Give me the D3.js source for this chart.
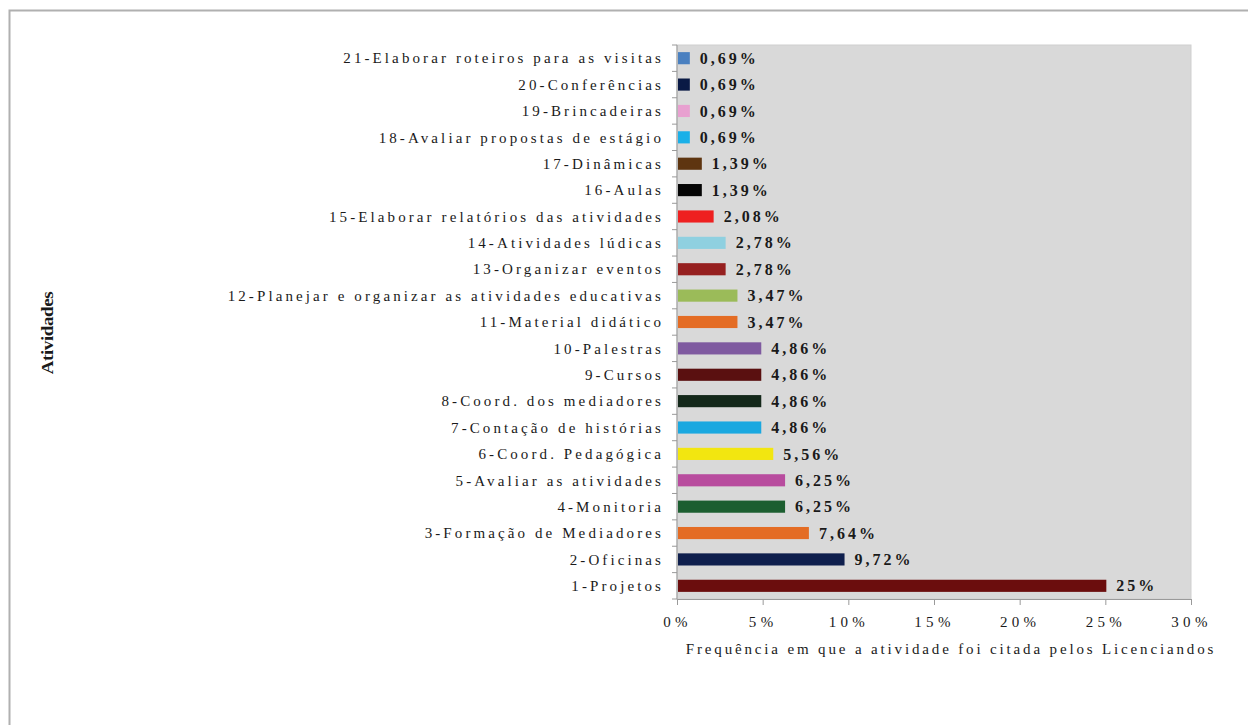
<!DOCTYPE html>
<html><head><meta charset="utf-8">
<script src="https://cdn.jsdelivr.net/npm/d3@7/dist/d3.min.js"></script>
<style>
body{margin:0;background:#fff;}
svg{display:block;}
svg text{font-family:"Liberation Serif","Times New Roman",Tinos,"DejaVu Serif",serif;}
</style></head>
<body><svg id="c" width="1248" height="725"></svg>
<script>
const categories = [
 "1-Projetos","2-Oficinas","3-Formação de Mediadores","4-Monitoria","5-Avaliar as atividades",
 "6-Coord. Pedagógica","7-Contação de histórias","8-Coord. dos mediadores","9-Cursos","10-Palestras",
 "11-Material didático","12-Planejar e organizar as atividades educativas","13-Organizar eventos",
 "14-Atividades lúdicas","15-Elaborar relatórios das atividades","16-Aulas","17-Dinâmicas",
 "18-Avaliar propostas de estágio","19-Brincadeiras","20-Conferências","21-Elaborar roteiros para as visitas"
];
const values = [25,9.72,7.64,6.25,6.25,5.56,4.86,4.86,4.86,4.86,3.47,3.47,2.78,2.78,2.08,1.39,1.39,0.69,0.69,0.69,0.69];
const valueLabels = ["25%","9,72%","7,64%","6,25%","6,25%","5,56%","4,86%","4,86%","4,86%","4,86%","3,47%","3,47%","2,78%","2,78%","2,08%","1,39%","1,39%","0,69%","0,69%","0,69%","0,69%"];
const colors = ["#6b0d0d","#0f1f4d","#e46c24","#1c5e30","#b84c9e","#f2e610","#1aa8e0","#14281a","#5a1010","#7f5aa0",
 "#e46c24","#9bbb59","#962020","#8fd0e0","#ee2020","#050505","#5e3510","#1ab0e8","#e8a0d0","#0a1a45","#4a80c0"];
const xTicks = [0,5,10,15,20,25,30];
const xTickLabels = ["0%","5%","10%","15%","20%","25%","30%"];
const xTitle = "Frequência em que a atividade foi citada pelos Licenciandos";
const yTitle = "Atividades";

(function(){
const svg = d3.select("#c");
const pL = 677, pR = 1191, pT = 45, pB = 599;

// frame
svg.append("rect").attr("x",9.5).attr("y",10.5).attr("width",1260).attr("height",760)
  .attr("fill","none").attr("stroke","#b0b0b0").attr("stroke-width",2);

const x = d3.scaleLinear().domain([0,30]).range([pL,pR]);
const y = d3.scaleBand().domain(categories).range([pB,pT]).paddingInner(0.54).paddingOuter(0.27);

svg.append("rect").attr("x",pL).attr("y",pT).attr("width",pR-pL).attr("height",pB-pT)
  .attr("fill","#d9d9d9").attr("stroke","#cfcfcf");

// bars
svg.append("g").selectAll("rect").data(categories).join("rect")
  .attr("x",x(0)+1).attr("y",d=>y(d))
  .attr("width",(d,i)=>x(values[i])-x(0))
  .attr("height",y.bandwidth())
  .attr("fill",(d,i)=>colors[i]);

// value labels
svg.append("g").selectAll("text").data(categories).join("text")
  .attr("x",(d,i)=>x(values[i])+11).attr("y",d=>y(d)+y.bandwidth()/2)
  .attr("dy","0.35em")
  .style("font-size","16px").style("font-weight","bold")
  .style("letter-spacing","3px").attr("fill","#1a1a1a")
  .text((d,i)=>valueLabels[i]);

// y axis
const yb = d3.range(categories.length+1).map(i=>pB - i*(pB-pT)/categories.length);
const ya = svg.append("g");
ya.append("line").attr("x1",pL).attr("x2",pL).attr("y1",pT).attr("y2",pB).attr("stroke","#9a9a9a");
ya.selectAll("line.t").data(yb).join("line").attr("class","t")
  .attr("x1",pL-5).attr("x2",pL).attr("y1",d=>d).attr("y2",d=>d).attr("stroke","#9a9a9a");
ya.selectAll("text").data(categories).join("text")
  .attr("x",pL-13).attr("y",d=>y(d)+y.bandwidth()/2).attr("dy","0.35em")
  .attr("text-anchor","end")
  .style("font-size","15px").style("letter-spacing","3.1px")
  .attr("fill","#1a1a1a").text(d=>d);

// x axis
const xa = svg.append("g").attr("transform",`translate(0,${pB})`)
  .call(d3.axisBottom(x).tickValues(xTicks).tickSize(6).tickFormat((d,i)=>xTickLabels[i]));
xa.select(".domain").attr("stroke","#9a9a9a");
xa.selectAll(".tick line").attr("stroke","#9a9a9a");
xa.selectAll(".tick text").attr("y",17)
  .style("font-size","15px").style("letter-spacing","4.3px").attr("fill","#1a1a1a");

svg.append("text").attr("x",951).attr("y",654).attr("text-anchor","middle")
  .style("font-size","15px").style("letter-spacing","2.85px")
  .attr("fill","#1a1a1a").text(xTitle);

svg.append("text").attr("transform","translate(53,333) rotate(-90) scale(1,0.85)").attr("text-anchor","middle")
  .style("font-size","19px").style("font-weight","bold")
  .style("letter-spacing","-0.4px")
  .attr("fill","#1a1a1a").text(yTitle);
})();
</script></body></html>
